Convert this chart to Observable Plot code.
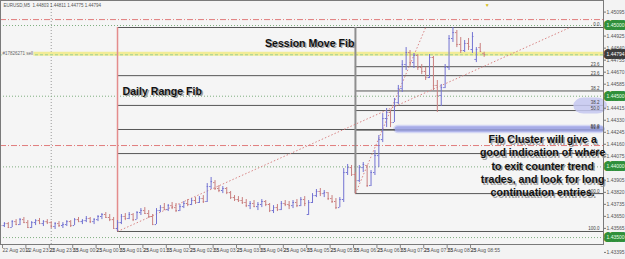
<!DOCTYPE html>
<html><head><meta charset="utf-8">
<script src="https://cdn.jsdelivr.net/npm/d3@7"></script>
<script src="https://cdn.jsdelivr.net/npm/@observablehq/plot@0.6"></script>
<style>
html,body{margin:0;padding:0;background:#f3f3f3;}
#chart{width:625px;height:259px;overflow:hidden;}
</style></head><body><div id="chart"></div>
<script>
// ---------- data ----------
const title = "EURUSD,M5  1.44803 1.44811 1.44775 1.44794";
const barStart = "2011-08-22T22:55:00Z";
const barMinutes = 5;
const windowStart = "2011-08-22T22:55:00Z";
const windowEnd = "2011-08-23T11:48:00Z";
const daySeparator = ["2011-08-23T00:00:00Z"];
const shiftMarker = ["2011-08-23T09:19:00Z"];

const open = [1.43606,1.43585,1.43599,1.43571,1.43613,1.43592,1.43627,1.43606,1.43571,1.43606,
1.43620,1.43599,1.43613,1.43606,1.43578,1.43599,1.43585,1.43592,1.43613,1.43585,
1.43627,1.43613,1.43620,1.43635,1.43613,1.43627,1.43649,1.43663,1.43642,1.43627,
1.43564,1.43606,1.43649,1.43635,1.43663,1.43627,1.43677,1.43691,1.43670,1.43649,
1.43592,1.43691,1.43712,1.43698,1.43726,1.43712,1.43691,1.43719,1.43741,1.43734,
1.43762,1.43748,1.43776,1.43755,1.43861,1.43889,1.43847,1.43833,1.43847,1.43818,
1.43783,1.43769,1.43762,1.43748,1.43726,1.43741,1.43719,1.43734,1.43755,1.43734,
1.43691,1.43712,1.43698,1.43741,1.43734,1.43726,1.43748,1.43726,1.43769,1.43663,
1.43748,1.43797,1.43826,1.43811,1.43818,1.43776,1.43755,1.43712,1.43769,1.43960,
1.43995,1.43946,1.43903,1.43995,1.44010,1.43868,1.43960,1.44080,1.44193,1.44342,
1.44385,1.44314,1.44455,1.44554,1.44724,1.44809,1.44738,1.44788,1.44703,1.44675,
1.44632,1.44774,1.44576,1.44505,1.44561,1.44703,1.44908,1.44950,1.44866,1.44823,
1.44873,1.44830,1.44760,1.44844,1.44803];
const high = [1.43613,1.43606,1.43606,1.43620,1.43627,1.43635,1.43642,1.43620,1.43613,1.43627,
1.43635,1.43620,1.43627,1.43613,1.43606,1.43613,1.43606,1.43620,1.43620,1.43635,
1.43642,1.43627,1.43649,1.43642,1.43635,1.43656,1.43670,1.43677,1.43663,1.43642,
1.43620,1.43663,1.43670,1.43677,1.43670,1.43684,1.43705,1.43712,1.43691,1.43663,
1.43705,1.43726,1.43741,1.43734,1.43748,1.43741,1.43734,1.43755,1.43769,1.43776,
1.43783,1.43790,1.43797,1.43882,1.43925,1.43903,1.43868,1.43861,1.43854,1.43826,
1.43797,1.43790,1.43783,1.43769,1.43755,1.43762,1.43748,1.43769,1.43762,1.43741,
1.43726,1.43734,1.43755,1.43762,1.43755,1.43762,1.43769,1.43783,1.43790,1.43762,
1.43811,1.43840,1.43847,1.43833,1.43818,1.43797,1.43776,1.43783,1.43988,1.44017,
1.44010,1.43960,1.44010,1.44031,1.44010,1.43974,1.44116,1.44222,1.44377,1.44413,
1.44399,1.44484,1.44576,1.44752,1.44844,1.44823,1.44802,1.44795,1.44724,1.44703,
1.44795,1.44781,1.44611,1.44583,1.44724,1.44929,1.44986,1.44965,1.44915,1.44894,
1.44908,1.44950,1.44844,1.44873,1.44811];
const low = [1.43578,1.43571,1.43564,1.43571,1.43585,1.43585,1.43599,1.43564,1.43564,1.43585,
1.43592,1.43578,1.43592,1.43564,1.43557,1.43571,1.43564,1.43578,1.43571,1.43585,
1.43606,1.43592,1.43606,1.43599,1.43592,1.43613,1.43627,1.43635,1.43613,1.43557,
1.43543,1.43592,1.43620,1.43627,1.43613,1.43627,1.43656,1.43663,1.43635,1.43585,
1.43592,1.43677,1.43691,1.43684,1.43698,1.43677,1.43684,1.43705,1.43719,1.43726,
1.43734,1.43741,1.43741,1.43748,1.43840,1.43833,1.43818,1.43811,1.43804,1.43769,
1.43755,1.43748,1.43734,1.43712,1.43698,1.43712,1.43691,1.43712,1.43719,1.43677,
1.43670,1.43684,1.43691,1.43719,1.43698,1.43705,1.43712,1.43719,1.43719,1.43656,
1.43741,1.43783,1.43790,1.43783,1.43762,1.43741,1.43698,1.43712,1.43748,1.43939,
1.43932,1.43811,1.43889,1.43960,1.43854,1.43861,1.43939,1.43995,1.44172,1.44278,
1.44278,1.44314,1.44441,1.44526,1.44682,1.44710,1.44696,1.44682,1.44653,1.44611,
1.44625,1.44540,1.44385,1.44427,1.44554,1.44682,1.44880,1.44844,1.44802,1.44809,
1.44823,1.44802,1.44738,1.44816,1.44775];
const close = [1.43585,1.43599,1.43571,1.43613,1.43592,1.43627,1.43606,1.43571,1.43606,1.43620,
1.43599,1.43613,1.43606,1.43578,1.43599,1.43585,1.43592,1.43613,1.43585,1.43627,
1.43613,1.43620,1.43635,1.43613,1.43627,1.43649,1.43663,1.43642,1.43627,1.43564,
1.43606,1.43649,1.43635,1.43663,1.43627,1.43677,1.43691,1.43670,1.43649,1.43592,
1.43691,1.43712,1.43698,1.43726,1.43712,1.43691,1.43719,1.43741,1.43734,1.43762,
1.43748,1.43776,1.43755,1.43861,1.43896,1.43847,1.43833,1.43847,1.43818,1.43783,
1.43769,1.43762,1.43748,1.43726,1.43741,1.43719,1.43734,1.43755,1.43734,1.43691,
1.43712,1.43698,1.43741,1.43734,1.43726,1.43748,1.43726,1.43769,1.43741,1.43748,
1.43797,1.43826,1.43811,1.43818,1.43776,1.43755,1.43712,1.43769,1.43960,1.43995,
1.43946,1.43903,1.43995,1.44017,1.43868,1.43960,1.44080,1.44193,1.44342,1.44385,
1.44314,1.44455,1.44554,1.44724,1.44809,1.44738,1.44788,1.44703,1.44675,1.44632,
1.44774,1.44576,1.44505,1.44561,1.44703,1.44908,1.44950,1.44866,1.44823,1.44873,
1.44851,1.44922,1.44830,1.44816,1.44794];

const xTickTimes = ["2011-08-22T22:55:00Z","2011-08-22T23:25:00Z","2011-08-22T23:55:00Z","2011-08-23T00:25:00Z",
"2011-08-23T00:55:00Z","2011-08-23T01:25:00Z","2011-08-23T01:55:00Z","2011-08-23T02:25:00Z","2011-08-23T02:55:00Z",
"2011-08-23T03:25:00Z","2011-08-23T03:55:00Z","2011-08-23T04:25:00Z","2011-08-23T04:55:00Z","2011-08-23T05:25:00Z",
"2011-08-23T05:55:00Z","2011-08-23T06:25:00Z","2011-08-23T06:55:00Z","2011-08-23T07:25:00Z","2011-08-23T07:55:00Z",
"2011-08-23T08:25:00Z","2011-08-23T08:55:00Z"];
const xTickLabels = ["22 Aug 2011","22 Aug 23:25","22 Aug 23:55","23 Aug 00:25","23 Aug 00:55","23 Aug 01:25",
"23 Aug 01:55","23 Aug 02:25","23 Aug 02:55","23 Aug 03:25","23 Aug 03:55","23 Aug 04:25","23 Aug 04:55",
"23 Aug 05:25","23 Aug 05:55","23 Aug 06:25","23 Aug 06:55","23 Aug 07:25","23 Aug 07:55","23 Aug 08:25","23 Aug 08:55"];
// right-axis price labels (those hidden under the highlighted price boxes are left out)
const yTicks = [1.45095,1.44925,1.44840,1.44755,1.44670,1.44585,1.44415,1.44330,1.44245,
1.44160,1.44075,1.43905,1.43820,1.43735,1.43650,1.43565,1.43395];
const yDomain = [1.43451, 1.45177];

const roundLevels = [1.4500, 1.4450, 1.4400, 1.4350];
const stopLevels = [1.45042, 1.44151];
const orderPrice = [1.44800];
const orderLabel = "#17826271 sell";
const bidPrice = [1.44794];

const fibRatios = [0, 0.236, 0.382, 0.5, 0.618, 1];
const fibLabels = ["0.0","23.6","38.2","50.0","61.8","100.0"];
const dailyFib = {t1:"2011-08-23T01:25:00Z", p1:1.43543, t2:"2011-08-23T11:05:00Z", p2:1.44986};
const sessionFib = {t1:"2011-08-23T06:30:00Z", p1:1.43811, t2:"2011-08-23T08:00:00Z", p2:1.44986};

const clusterGlow = [{x1:"2011-08-23T07:19:00Z", x2:"2011-08-23T11:50:00Z", y1:1.44235, y2:1.44295}];
const clusterBand = [{x1:"2011-08-23T07:21:00Z", x2:"2011-08-23T11:50:00Z", y1:1.44245, y2:1.44284}];
const clusterOval = [{x1:"2011-08-23T11:10:00Z", x2:"2011-08-23T11:53:00Z", y1:1.44374, y2:1.44487}];

const noteSession = {text:"Session Move Fib", t:"2011-08-23T06:30:00Z", p:1.44880};
const noteDaily = {text:"Daily Range Fib", t:"2011-08-23T01:25:00Z", p:1.44540};
const noteCluster = {text:"Fib Cluster will give a\ngood indication of where\nto exit counter trend\ntrades, and look for long\ncontinuation entries.", t:"2011-08-23T10:30:00Z", p:1.44010};

// ---------- build ----------
const D = s => new Date(s);
const xEnd = D(windowEnd);
const bars = open.map((o, i) => ({t: new Date(Date.parse(barStart) + i * barMinutes * 60000), o, h: high[i], l: low[i], c: close[i]}));
const upColor = "#7373d2", downColor = "#c97f7f";
const col = d => d.c >= d.o ? upColor : downColor;
const tickMs = 110000;

function levels(f) {
  return fibRatios.map((r, i) => ({p: f.p2 - r * (f.p2 - f.p1), label: fibLabels[i], x1: D(f.t1)}));
}
const fibAll = [...levels(dailyFib), ...levels(sessionFib)];
// identical labels at the same price are drawn once
const fibText = fibAll.filter((d, i) => fibAll.findIndex(e => e.label === d.label && Math.abs(e.p - d.p) < 1e-6) === i);
const labelByTime = new Map(xTickTimes.map((s, i) => [+D(s), xTickLabels[i]]));
const font = "Liberation Sans, Arial, sans-serif";

function note(n, anchor, dx) {
  const common = {x: d => D(d.t), y: "p", text: "text", textAnchor: anchor, fontSize: 10.6, fontWeight: "bold", lineHeight: 1.26};
  return [
    Plot.text([n], {...common, dx: dx + 1.5, dy: 1.5, fill: "#8a8a8a", fillOpacity: 0.8}),
    Plot.text([n], {...common, dx, fill: "#111"})
  ];
}

const chart = Plot.plot({
  width: 625, height: 259,
  marginLeft: 0, marginRight: 22, marginTop: 0, marginBottom: 15,
  style: {background: "#f3f3f3", fontFamily: font, overflow: "visible"},
  x: {type: "utc", domain: [D(windowStart), xEnd]},
  y: {domain: yDomain},
  marks: [
    Plot.frame({fill: "#f5f5f5"}),
    Plot.ruleX(daySeparator.map(D), {stroke: "#9a9a9a", strokeDasharray: "1,2"}),
    Plot.ruleY(roundLevels, {stroke: "#7fae7f", strokeDasharray: "1,2"}),
    Plot.ruleY(stopLevels, {stroke: "#e07c7c", strokeDasharray: "6,2,1,2"}),
    Plot.ruleY(orderPrice, {stroke: "#f2ec96", strokeWidth: 4}),
    Plot.ruleY(orderPrice, {stroke: "#9ccf96", strokeDasharray: "3,2", dy: 1}),
    Plot.rect(clusterGlow, {x1: d => D(d.x1), x2: d => D(d.x2), y1: "y1", y2: "y2", fill: "#d3d6f4", rx: 5}),
    Plot.ruleY(fibAll, {y: "p", x1: "x1", x2: () => xEnd, stroke: "#575757"}),
    Plot.ruleX([dailyFib], {x: d => D(d.t1), y1: "p1", y2: "p2", stroke: "#e48c8c", strokeWidth: 1.5}),
    Plot.ruleX([sessionFib], {x: d => D(d.t1), y1: "p1", y2: "p2", stroke: "#8e8e8e", strokeWidth: 2}),
    Plot.link([dailyFib, sessionFib], {x1: d => D(d.t1), y1: "p1", x2: d => D(d.t2), y2: "p2", stroke: "#d98686", strokeDasharray: "1.5,2"}),
    Plot.rect(clusterBand, {x1: d => D(d.x1), x2: d => D(d.x2), y1: "y1", y2: "y2", fill: "#9ea3e4", fillOpacity: 0.85, rx: 3}),
    Plot.rect(clusterOval, {x1: d => D(d.x1), x2: d => D(d.x2), y1: "y1", y2: "y2", fill: "#c4c7f0", fillOpacity: 0.85, rx: 10}),
    Plot.ruleX(bars, {x: "t", y1: "l", y2: "h", stroke: col}),
    Plot.ruleY(bars, {y: "o", x1: d => new Date(+d.t - tickMs), x2: "t", stroke: col}),
    Plot.ruleY(bars, {y: "c", x1: "t", x2: d => new Date(+d.t + tickMs), stroke: col}),
    Plot.text(fibText, {x: () => xEnd, y: "p", text: "label", dx: -4, dy: -2.5, textAnchor: "end", fontSize: 4.5, fill: "#444"}),
    Plot.axisY(yTicks, {anchor: "right", tickFormat: d => d.toFixed(5), tickSize: 2, tickPadding: 1, fontSize: 5, fill: "#555", stroke: "#777"}),
    Plot.axisX(xTickTimes.map(D), {anchor: "bottom", tickFormat: d => labelByTime.get(+d), tickSize: 4, tickPadding: 0, textAnchor: "start", dx: 2, fontSize: 5, fill: "#555", stroke: "#888"}),
    Plot.frame({stroke: "#7a7a7a"}),
    Plot.text(roundLevels, {x: () => xEnd, y: d => d, text: d => d.toFixed(5), dx: 3, textAnchor: "start", fontSize: 5, fill: "#e8ffe8", stroke: "#2f8f3a", strokeWidth: 6, paintOrder: "stroke"}),
    Plot.text(bidPrice, {x: () => xEnd, y: d => d, text: d => d.toFixed(5), dx: 3, textAnchor: "start", fontSize: 5, fill: "#ffffff", stroke: "#3c3c3c", strokeWidth: 6, paintOrder: "stroke"}),
    Plot.text([title], {frameAnchor: "top-left", dx: 3, dy: 3, fontSize: 4.5, fill: "#555"}),
    Plot.text([orderLabel], {x: () => D(windowStart), y: orderPrice[0], dx: 2, textAnchor: "start", fontSize: 4.5, fill: "#666", stroke: "#f5f5f5", strokeWidth: 2, paintOrder: "stroke"}),
    Plot.text(["\u25BC"], {x: shiftMarker.map(D), frameAnchor: "top", dy: 3, fontSize: 5, fill: "#d8bd10"}),
    ...note(noteSession, "end", -1),
    ...note(noteDaily, "start", 5),
    ...note(noteCluster, "middle", 0)
  ]
});
document.getElementById("chart").appendChild(chart);
</script>
</body></html>
